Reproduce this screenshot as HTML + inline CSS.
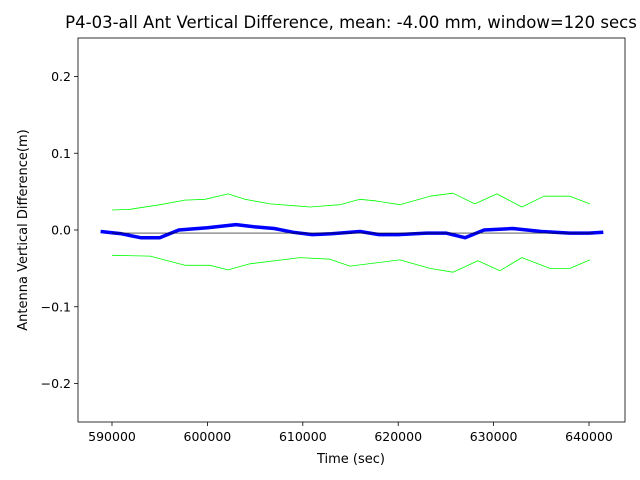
<!DOCTYPE html>
<html><head><meta charset="utf-8"><style>
body{margin:0;background:#fff}
svg{display:block;font-family:"DejaVu Sans","Liberation Sans",sans-serif}
</style></head><body>
<svg id="chart" width="640" height="480">
<text x="351" y="28" font-size="16.5" text-anchor="middle">P4-03-all Ant Vertical Difference, mean: -4.00 mm, window=120 secs</text>
<g id="plot"></g>
<rect x="78" y="38" width="547" height="384" fill="none" stroke="#000" stroke-width="0.8"/>
<text x="351" y="463" font-size="13" text-anchor="middle">Time (sec)</text>
<text transform="translate(27,230) rotate(-90)" font-size="13" text-anchor="middle">Antenna Vertical Difference(m)</text>
</svg>
<script>
const xTicks=[590000,600000,610000,620000,630000,640000];
const yTicks=[-0.2,-0.1,0.0,0.1,0.2];
const yTickLabels=["\u22120.2","\u22120.1","0.0","0.1","0.2"];
const blueT=[588800,591000,593000,595000,597000,600000,603000,605000,607000,609000,611000,613000,616000,618000,620000,623000,625000,627000,629000,632000,635000,638000,640000,641500];
const blueV=[-0.002,-0.005,-0.01,-0.01,0,0.003,0.007,0.004,0.002,-0.003,-0.006,-0.005,-0.002,-0.006,-0.006,-0.004,-0.004,-0.01,0,0.002,-0.002,-0.004,-0.004,-0.003];
const upperT=[590000,591886,595030,597650,599746,602157,603938,606558,609702,610750,613894,615990,617562,620182,623326,625737,628042,630348,632968,635278,638000,640094];
const upperV=[0.026,0.027,0.033,0.039,0.040,0.047,0.040,0.034,0.031,0.030,0.033,0.040,0.038,0.033,0.044,0.048,0.034,0.047,0.030,0.044,0.044,0.034];
const lowerT=[590000,593982,597650,600270,602157,604462,609702,612846,614942,620182,623326,625737,628357,630662,632968,635902,638000,640094];
const lowerV=[-0.033,-0.034,-0.046,-0.046,-0.052,-0.044,-0.036,-0.038,-0.047,-0.039,-0.050,-0.055,-0.040,-0.053,-0.036,-0.050,-0.050,-0.039];
const meanVal=-0.004, meanT=[590000,640500];
const NS="http://www.w3.org/2000/svg";
const X=t=>112+(t-590000)*477/50000;
const Y=v=>230-v*767.5;
const svg=document.getElementById('chart');
const g=document.getElementById('plot');
function mk(tag,attrs,parent){const e=document.createElementNS(NS,tag);for(const k in attrs)e.setAttribute(k,attrs[k]);(parent||g).appendChild(e);return e;}
function pts(ts,vs){return ts.map((t,i)=>X(t).toFixed(1)+","+Y(vs[i]).toFixed(1)).join(" ");}
let e;
e=mk('polyline',{points:pts(upperT,upperV),fill:'none',stroke:'#00ff00','stroke-width':0.8,'stroke-linejoin':'round'});


e=mk('polyline',{points:pts(lowerT,lowerV),fill:'none',stroke:'#00ff00','stroke-width':0.8,'stroke-linejoin':'round'});


e=mk('polyline',{points:pts(blueT,blueV),fill:'none',stroke:'#0000ff','stroke-width':3.5,'stroke-linejoin':'round'});


e=mk('line',{x1:X(meanT[0]),x2:X(meanT[1]),y1:Y(meanVal),y2:Y(meanVal),stroke:'#000','stroke-width':0.6});


xTicks.forEach(t=>{
  const x=X(t);
  e=mk('line',{x1:x,x2:x,y1:422,y2:426,stroke:'#000','stroke-width':0.8},svg);
  
  
  e=mk('text',{x:x,y:441,'font-size':12.5,'text-anchor':'middle'},svg);e.textContent=t;
  
  
});
yTicks.forEach((v,i)=>{
  const y=Y(v);
  e=mk('line',{x1:74,x2:78,y1:y,y2:y,stroke:'#000','stroke-width':0.8},svg);
  
  
  e=mk('text',{x:71,y:y+4.5,'font-size':12.5,'text-anchor':'end'},svg);e.textContent=yTickLabels[i];
  
  
});
</script>
</body></html>
